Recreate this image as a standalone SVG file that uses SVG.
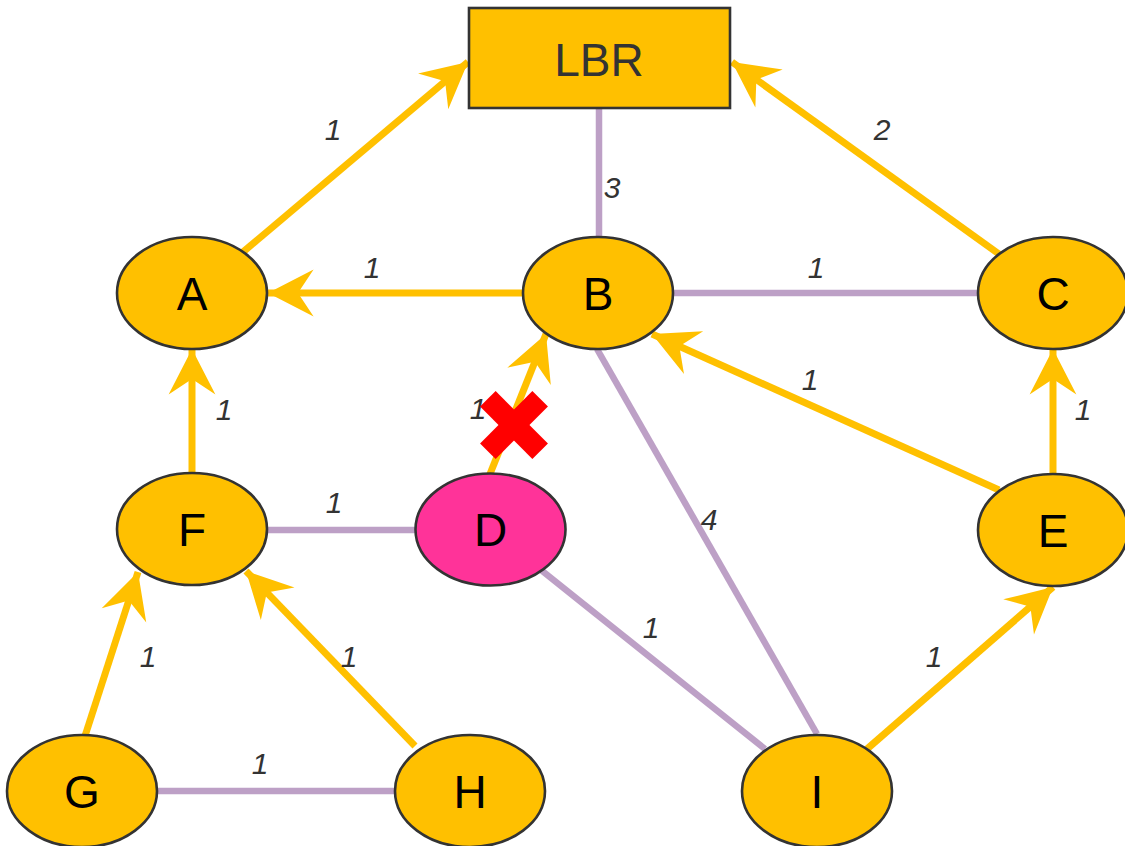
<svg xmlns="http://www.w3.org/2000/svg" width="1125" height="846" viewBox="0 0 1125 846">
<style>
.node{fill:#FFC000;stroke:#333333;stroke-width:2.6}
.pink{fill:#FF3399}
.nt{font-family:"Liberation Sans",Arial,sans-serif;font-size:46px;fill:#000;text-anchor:middle}
.lt{font-family:"Liberation Sans",Arial,sans-serif;font-size:30px;font-style:italic;fill:#333333;text-anchor:middle}
.y{stroke:#FFC000;stroke-width:7;fill:none;marker-end:url(#ah)}
.p{stroke:#BDA0C6;stroke-width:6.5;fill:none}
</style>
<defs>
<marker id="ah" markerUnits="userSpaceOnUse" orient="auto" refX="0" refY="0" markerWidth="60" markerHeight="60" viewBox="-45 -25 50 50" overflow="visible">
<path d="M0,0 L-38,-19.5 L-25,0 L-38,19.5 Z" fill="#FFC000"/>
</marker>
</defs>
<rect width="1125" height="846" fill="#FFFFFF"/>
<g id="connectors">
<line class="p" x1="599" y1="108" x2="599" y2="237"/>
<line class="p" x1="673" y1="293" x2="978" y2="293"/>
<line class="p" x1="267" y1="530" x2="415" y2="530"/>
<line class="p" x1="157" y1="791" x2="395" y2="791"/>
<line class="p" x1="597" y1="349" x2="817" y2="734"/>
<line class="p" x1="541" y1="570" x2="765" y2="749"/>
<line class="y" x1="243" y1="252" x2="468" y2="62"/>
<line class="y" x1="999" y1="254" x2="732" y2="62"/>
<line class="y" x1="523" y1="293" x2="268" y2="293"/>
<line class="y" x1="999" y1="490" x2="652" y2="334"/>
<line class="y" x1="1053" y1="473" x2="1053" y2="349"/>
<line class="y" x1="192" y1="473" x2="192" y2="349"/>
<line class="y" x1="490" y1="474" x2="546" y2="334"/>
<line class="y" x1="867" y1="749" x2="1053" y2="587"/>
<line class="y" x1="85" y1="736" x2="138" y2="572"/>
<line class="y" x1="415" y1="746" x2="246" y2="571"/>
<text class="lt" x="333" y="140">1</text>
<text class="lt" x="882" y="140">2</text>
<text class="lt" x="612" y="198">3</text>
<text class="lt" x="372" y="278">1</text>
<text class="lt" x="816" y="278">1</text>
<text class="lt" x="810" y="390">1</text>
<text class="lt" x="1083" y="420">1</text>
<text class="lt" x="224" y="420">1</text>
<text class="lt" x="478" y="419">1</text>
<text class="lt" x="334" y="513">1</text>
<text class="lt" x="709" y="530">4</text>
<text class="lt" x="651" y="638">1</text>
<text class="lt" x="934" y="667">1</text>
<text class="lt" x="349" y="667">1</text>
<text class="lt" x="148" y="667">1</text>
<text class="lt" x="260" y="774">1</text>
</g>
<g id="LBR">
<rect class="node" x="469" y="8" width="261" height="100"/>
<text class="nt" x="599" y="76" style="fill:#333333">LBR</text>
</g>
<g id="A"><ellipse class="node" cx="192" cy="293" rx="75" ry="56"/><text class="nt" x="192" y="310">A</text></g>
<g id="B"><ellipse class="node" cx="598" cy="293" rx="75" ry="56"/><text class="nt" x="598" y="310">B</text></g>
<g id="C"><ellipse class="node" cx="1053" cy="293" rx="75" ry="56"/><text class="nt" x="1053" y="310">C</text></g>
<g id="F"><ellipse class="node" cx="192" cy="529" rx="75" ry="56"/><text class="nt" x="192" y="546">F</text></g>
<g id="D"><ellipse class="node pink" cx="490.5" cy="529.5" rx="75" ry="56"/><text class="nt" x="490.5" y="546">D</text></g>
<g id="E"><ellipse class="node" cx="1053" cy="530" rx="75" ry="56"/><text class="nt" x="1053" y="547">E</text></g>
<g id="G"><ellipse class="node" cx="82" cy="791" rx="75" ry="56"/><text class="nt" x="82" y="808">G</text></g>
<g id="H"><ellipse class="node" cx="470" cy="791" rx="75" ry="56"/><text class="nt" x="470" y="808">H</text></g>
<g id="I"><ellipse class="node" cx="817" cy="791" rx="75" ry="56"/><text class="nt" x="817" y="808">I</text></g>
<g id="cross" fill="#FF0000">
<rect x="477" y="414" width="74" height="22" transform="rotate(45 514 425)"/>
<rect x="477" y="414" width="74" height="22" transform="rotate(-45 514 425)"/>
</g>
</svg>
